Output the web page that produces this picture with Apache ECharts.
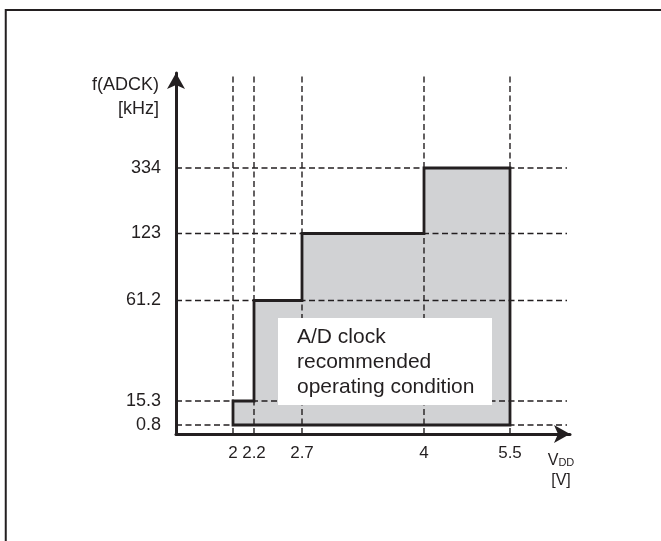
<!DOCTYPE html>
<html>
<head>
<meta charset="utf-8">
<script src="https://cdn.jsdelivr.net/npm/echarts@6/dist/echarts.min.js"></script>
<style>
  html, body { margin: 0; padding: 0; background: #fff; }
  #chart { width: 661px; height: 541px; }
</style>
</head>
<body>
<div id="chart"></div>
<script>
// values printed on the axes
const vddTicks = [2, 2.2, 2.7, 4, 5.5]
const fTicks = [0.8, 15.3, 61.2, 123, 334]

// recommended operating region: ceiling frequency between consecutive VDD edges
const stepEdges = [2, 2.2, 2.7, 4, 5.5]
const stepLevels = [15.3, 61.2, 123, 334]
const floorLevel = 0.8

// the drawing is schematic, not to scale: where each tick sits (px from origin)
const vddSlot = [57, 78, 126, 248, 334]
const fSlot = [9, 33, 133.5, 200.5, 266]
const X_MAX = 394
const Y_MAX = 361

const ink = '#231f20'
const xs = (v) => vddSlot[vddTicks.indexOf(v)]
const ys = (f) => fSlot[fTicks.indexOf(f)]

function regionPoints() {
  const pts = [[xs(stepEdges[0]), ys(floorLevel)]]
  stepLevels.forEach((lv, i) => {
    pts.push([xs(stepEdges[i]), ys(lv)])
    pts.push([xs(stepEdges[i + 1]), ys(lv)])
  })
  pts.push([xs(stepEdges[stepEdges.length - 1]), ys(floorLevel)])
  return pts
}

const arrowLine = {
  lineStyle: { color: ink, width: 3 },
  symbol: ['none', 'arrow'],
  symbolSize: [13.5, 16],
  symbolOffset: [0, 0],
}

const chart = echarts.init(document.getElementById('chart'))

chart.setOption({
  animation: false,
  textStyle: { fontFamily: 'Liberation Sans, Arial, sans-serif', color: ink },
  grid: { left: 176, top: 73, width: X_MAX, height: Y_MAX },
  xAxis: {
    type: 'value',
    min: 0,
    max: X_MAX,
    name: '{v|V}{dd|DD}\n{v|[V]}',
    nameLocation: 'end',
    nameGap: -9,
    nameTextStyle: {
      align: 'center',
      verticalAlign: 'top',
      padding: [17, 0, 0, 0],
      rich: {
        v: { fontSize: 16, color: ink, lineHeight: 20 },
        dd: { fontSize: 11, color: ink, lineHeight: 20, verticalAlign: 'middle', padding: [3, 0, 0, 0] },
      },
    },
    axisLine: arrowLine,
    axisTick: { show: false },
    splitLine: { show: false },
    axisLabel: {
      customValues: vddSlot,
      formatter: (v) => String(vddTicks[vddSlot.indexOf(v)]),
      margin: 11,
      fontSize: 17,
      fontFamily: 'Liberation Sans Narrow, Arial Narrow, sans-serif',
      color: ink,
    },
  },
  yAxis: {
    type: 'value',
    min: 0,
    max: Y_MAX,
    name: 'f(ADCK)\n[kHz]',
    nameLocation: 'end',
    nameGap: 0,
    nameTextStyle: {
      fontSize: 18,
      color: ink,
      align: 'right',
      verticalAlign: 'top',
      lineHeight: 24,
      padding: [0, 17, 0, 0],
    },
    axisLine: arrowLine,
    axisTick: { show: false },
    splitLine: { show: false },
    axisLabel: {
      customValues: fSlot,
      formatter: (v) => String(fTicks[fSlot.indexOf(v)]),
      margin: 15,
      fontSize: 18,
      color: ink,
    },
  },
  series: [
    {
      // grey fill of the recommended region
      type: 'custom',
      z: 1,
      silent: true,
      data: [[0, 0]],
      renderItem: (params, api) => ({
        type: 'polygon',
        shape: { points: regionPoints().map((p) => api.coord(p)) },
        style: { fill: '#d1d2d4', stroke: null },
      }),
    },
    {
      // dashed guide lines at each tick
      type: 'custom',
      z: 2,
      silent: true,
      data: [[0, 0]],
      renderItem: (params, api) => {
        const style = { stroke: ink, lineWidth: 1.4, lineDash: [6, 3.5] }
        const lines = []
        vddSlot.forEach((x) => {
          const a = api.coord([x, 0])
          const b = api.coord([x, Y_MAX])
          lines.push({ type: 'line', shape: { x1: a[0], y1: a[1], x2: b[0], y2: b[1] }, style })
        })
        fSlot.forEach((y) => {
          const a = api.coord([0, y])
          const b = api.coord([X_MAX - 3, y])
          lines.push({ type: 'line', shape: { x1: a[0], y1: a[1], x2: b[0], y2: b[1] }, style })
        })
        return { type: 'group', children: lines }
      },
    },
    {
      // outline of the region
      type: 'custom',
      z: 3,
      silent: true,
      data: [[0, 0]],
      renderItem: (params, api) => ({
        type: 'polygon',
        shape: { points: regionPoints().map((p) => api.coord(p)) },
        style: { fill: null, stroke: ink, lineWidth: 2.8, lineJoin: 'miter' },
      }),
    },
  ],
  graphic: [
    {
      type: 'rect',
      z: 0,
      shape: { x: 5.75, y: 10, width: 800, height: 700 },
      style: { fill: null, stroke: ink, lineWidth: 2 },
    },
    {
      type: 'rect',
      z: 10,
      shape: { x: 278, y: 318, width: 214, height: 87 },
      style: { fill: '#fff' },
    },
    {
      type: 'text',
      z: 11,
      left: 297,
      top: 325,
      style: {
        text: 'A/D clock\nrecommended\noperating condition',
        fontSize: 21,
        lineHeight: 25,
        fontFamily: 'Liberation Sans, Arial, sans-serif',
        fill: ink,
      },
    },
  ],
})
</script>
</body>
</html>
